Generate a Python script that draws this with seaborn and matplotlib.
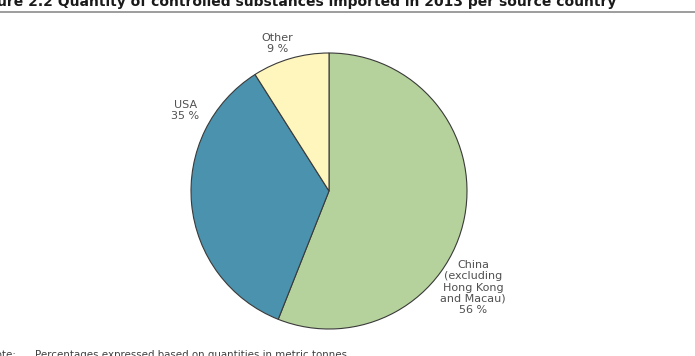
import seaborn as sns
import matplotlib.pyplot as plt

# data
countries = ["China\n(excluding\nHong Kong\nand Macau)", "USA", "Other"]
shares = [56, 35, 9]
colors = ["#b5d29c", "#4a92ad", "#fff6bd"]
# label positions (pie radius units)
label_x = [1.045, -1.04, -0.375]
label_y = [-0.70, 0.585, 1.07]

sns.set_theme(style="white")
plt.rcParams['font.family'] = ['DejaVu Sans']

fig = plt.figure(figsize=(6.95, 3.56), dpi=100)
ax = fig.add_axes([0, 0, 1, 1])

ax.pie(shares, colors=colors, startangle=90, counterclock=False,
       wedgeprops=dict(edgecolor="#3a3a3a", linewidth=0.8))

for name, val, x, y in zip(countries, shares, label_x, label_y):
    ax.text(x, y, f"{name}\n{val} %", ha="center", va="center",
            fontsize=8, color="#505050", linespacing=1.15)

# 138 px per unit, centre at (329, 191)
ax.set_xlim(-329 / 138, (695 - 329) / 138)
ax.set_ylim(-(356 - 191) / 138, 191 / 138)
ax.set_aspect("auto")
ax.axis("off")

fig.text(-0.039, 1 - 6 / 356, "Figure 2.2 Quantity of controlled substances imported in 2013 per source country",
         ha="left", va="baseline", fontsize=10, fontweight="bold", color="#1a1a1a")
fig.add_artist(plt.Line2D([0, 1], [1 - 12 / 356, 1 - 12 / 356], color="#8c8c8c", linewidth=1.2))
fig.text(35 / 695, 1 - 350 / 356, "Percentages expressed based on quantities in metric tonnes.",
         ha="left", va="top", fontsize=7.4, color="#404040")
fig.text(-12 / 695, 1 - 350 / 356, "Note:",
         ha="left", va="top", fontsize=7.4, color="#404040")

fig.savefig("out.png", dpi=100)
